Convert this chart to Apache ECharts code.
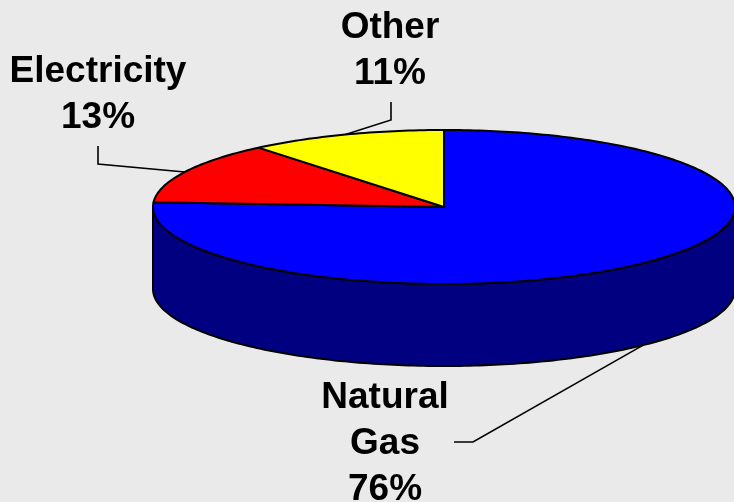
<!DOCTYPE html>
<html>
<head>
<meta charset="utf-8">
<script src="https://cdn.jsdelivr.net/npm/echarts@6/dist/echarts.min.js"></script>
<style>
html,body{margin:0;padding:0;background:#eaeaea;}
#chart{width:734px;height:502px;}
</style>
</head>
<body>
<div id="chart"></div>
<script>
// ---- data ----
const categories = ['Natural Gas', 'Electricity', 'Other'];
const categoryLabels = ['Natural\nGas', 'Electricity', 'Other'];
const values = [76, 13, 11];
const topColors = ['#0000ff', '#ff0000', '#ffff00'];
const sideColors = ['#000080', '#800000', '#808000'];

// ---- layout (not data) ----
const CX = 444, CY = 207, RX = 291, RY = 77, DEPTH = 82;
const START = -90; // degrees, 12 o'clock, clockwise
const labelLayout = [
  { x: 385, y: 444, elbow: [[454, 442], [473, 442]], bottom: true },
  { x: 98, y: 95, elbow: [[98, 146], [98, 164]], bottom: false },
  { x: 390, y: 51, elbow: [[391, 102], [391, 120]], bottom: false }
];

const total = values.reduce((a, b) => a + b, 0);
const cum = [];
values.reduce((acc, v, i) => { cum[i] = acc; return acc + v; }, 0);

function pt(deg, dy) {
  const t = deg * Math.PI / 180;
  return [CX + RX * Math.cos(t), CY + RY * Math.sin(t) + (dy || 0)];
}
function arc(a, b, dy) {
  const pts = [];
  const n = Math.max(2, Math.ceil(Math.abs(b - a)));
  for (let i = 0; i <= n; i++) pts.push(pt(a + (b - a) * i / n, dy));
  return pts;
}

function renderItem(params, api) {
  const i = params.dataIndex;
  const v = api.value(0);
  const a = START + cum[i] / total * 360;
  const b = START + (cum[i] + v) / total * 360;
  const children = [];
  // visible side portions: screen angles in [0,180] (mod 360)
  for (let k = -1; k <= 1; k++) {
    const lo = Math.max(a, k * 360), hi = Math.min(b, k * 360 + 180);
    if (hi > lo) {
      const topArc = arc(lo, hi, 0);
      const botArc = arc(hi, lo, DEPTH);
      children.push({
        type: 'polygon', z2: 1,
        shape: { points: topArc.concat(botArc) },
        style: { fill: sideColors[i], stroke: '#000', lineWidth: 2, lineJoin: 'round' }
      });
    }
  }
  // top face
  children.push({
    type: 'polygon', z2: 10,
    shape: { points: [[CX, CY]].concat(arc(a, b, 0)) },
    style: { fill: topColors[i], stroke: '#000', lineWidth: 2, lineJoin: 'round' }
  });
  // label + leader line
  const L = labelLayout[i];
  const mid = (a + b) / 2;
  const anchor = pt(mid, L.bottom ? DEPTH : 0);
  children.push({
    type: 'polyline', z2: 20,
    shape: { points: L.elbow.concat([anchor]) },
    style: { stroke: '#000', lineWidth: 1.6, fill: null }
  });
  const pct = Math.round(v / total * 100) + '%';
  children.push({
    type: 'text', z2: 30,
    style: {
      text: categoryLabels[i] + '\n' + pct,
      x: L.x, y: L.y,
      align: 'center', verticalAlign: 'middle',
      fontFamily: '"Liberation Sans", Arial, sans-serif',
      fontWeight: 'bold', fontSize: 37, lineHeight: 46,
      fill: '#000'
    }
  });
  return { type: 'group', children: children };
}

const chart = echarts.init(document.getElementById('chart'), null, { renderer: 'canvas' });
chart.setOption({
  backgroundColor: '#eaeaea',
  animation: false,
  series: [{
    type: 'custom',
    coordinateSystem: 'none',
    renderItem: renderItem,
    data: values.map((v, i) => ({ name: categories[i], value: [v] }))
  }]
});
</script>
</body>
</html>
